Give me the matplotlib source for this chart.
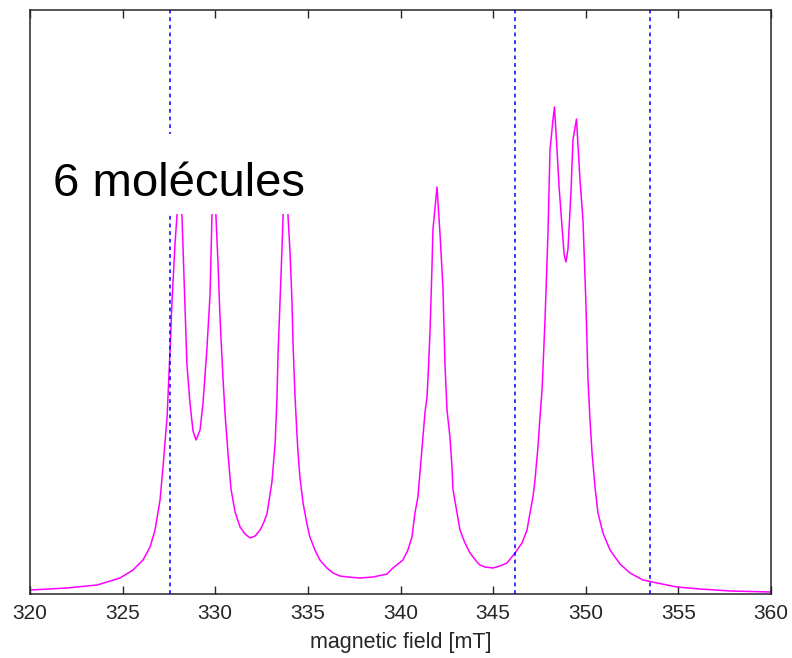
import matplotlib
matplotlib.use("Agg")
import matplotlib.pyplot as plt
from matplotlib.patches import Rectangle

plt.rcParams['font.family'] = ['Liberation Sans', 'DejaVu Sans']

# magnetic field (mT) and intensity (arbitrary units)
field = [320.00, 322.00, 323.62, 324.86, 325.56, 326.10, 326.48, 326.75, 327.02, 327.18,
         327.40, 327.56, 327.67, 327.83, 327.94, 328.07, 328.20, 328.37, 328.47, 328.64,
         328.80, 328.96, 329.18, 329.34, 329.55, 329.72, 329.82, 329.93, 330.04, 330.15,
         330.26, 330.42, 330.53, 330.69, 330.85, 331.07, 331.34, 331.61, 331.88, 332.15,
         332.42, 332.63, 332.79, 332.96, 333.06, 333.23, 333.33, 333.39, 333.50, 333.60,
         333.66, 333.79, 333.93, 334.03, 334.14, 334.20, 334.30, 334.41, 334.47, 334.57,
         334.74, 334.95, 335.11, 335.38, 335.65, 336.03, 336.36, 336.73, 337.17, 337.81,
         338.52, 339.27, 339.59, 340.13, 340.40, 340.62, 340.78, 340.94, 341.05, 341.21,
         341.32, 341.43, 341.48, 341.59, 341.70, 341.75, 341.97, 342.13, 342.29, 342.40,
         342.51, 342.67, 342.78, 342.83, 343.05, 343.21, 343.48, 343.75, 344.13, 344.29,
         344.56, 344.99, 345.37, 345.75, 346.18, 346.56, 346.83, 346.99, 347.15, 347.26,
         347.42, 347.53, 347.64, 347.69, 347.80, 347.85, 347.96, 348.07, 348.23, 348.31,
         348.45, 348.56, 348.72, 348.83, 348.93, 349.04, 349.20, 349.31, 349.50, 349.69,
         349.85, 350.01, 350.12, 350.23, 350.34, 350.50, 350.66, 350.93, 351.31, 351.85,
         352.39, 353.09, 353.85, 354.93, 356.17, 357.79, 360.00]
intensity = [4, 6, 9, 16, 24, 34, 47, 64, 94, 127,
             177, 244, 294, 351, 380, 440, 380, 285, 230, 190,
             163, 154, 164, 191, 245, 300, 377, 430, 377, 330,
             275, 215, 180, 140, 105, 82, 67, 60, 56, 58,
             64, 72, 80, 100, 112, 150, 195, 240, 294, 344,
             377, 455, 377, 344, 294, 250, 200, 160, 141, 117,
             91, 70, 57, 44, 34, 26, 21, 18, 17, 16,
             17, 20, 26, 34, 44, 57, 81, 97, 121, 157,
             181, 197, 214, 261, 327, 364, 407, 361, 307, 230,
             184, 157, 127, 105, 81, 64, 51, 41, 32, 29,
             27, 26, 28, 31, 41, 51, 64, 81, 97, 114,
             147, 177, 204, 225, 274, 300, 361, 444, 474, 487,
             444, 407, 367, 340, 332, 345, 401, 454, 475, 414,
             374, 290, 215, 174, 141, 107, 81, 61, 44, 30,
             21, 14, 11, 7, 5, 3, 2]

marker_fields = [327.58, 346.18, 353.45]
x_ticks = [320, 325, 330, 335, 340, 345, 350, 355, 360]
annotation = "6 molécules"
x_label = "magnetic field [mT]"

fig = plt.figure(figsize=(7.92, 6.58), dpi=100)
ax = fig.add_axes([30/792, 64/658, 741/792, 584/658])

ax.plot(field, intensity, color='#ff00ff', lw=1.1, zorder=2)
for f in marker_fields:
    ax.axvline(f, color='#0000ff', lw=1.1, ls=(0, (2.5, 2.5)), zorder=3)

ax.set_xlim(320, 360)
ax.set_ylim(0, 584)
ax.set_xticks(x_ticks)
ax.set_xticklabels([str(t) for t in x_ticks])
ax.set_yticks([])
ax.tick_params(axis='x', direction='in', top=True, bottom=True, length=6,
               width=1, colors='#262626', labelsize=15, pad=7)
for s in ax.spines.values():
    s.set_color('#262626')
    s.set_linewidth(1.1)
ax.set_xlabel(x_label, fontsize=15.5, color='#262626', labelpad=7)

# white background behind the annotation
ax.add_patch(Rectangle((320.81, 380), 14.6, 80, facecolor='white',
                       edgecolor='none', zorder=4))
ax.text(321.22, 398, annotation, fontsize=34, color='black', va='baseline',
        ha='left', zorder=5)

fig.savefig('out.png', dpi=100)
